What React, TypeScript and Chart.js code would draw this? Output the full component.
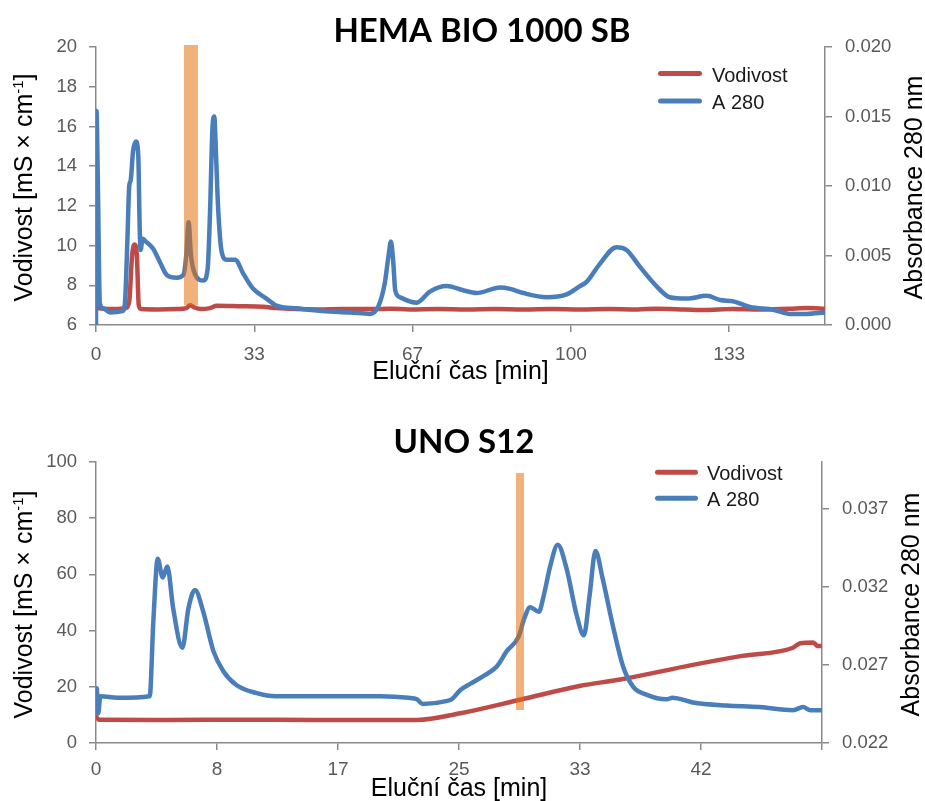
import React, { useEffect, useRef } from "react";
import { Chart, registerables } from "chart.js";

Chart.register(...registerables);

// ---------------- HEMA BIO 1000 SB ----------------
const hemaTitle = "HEMA BIO 1000 SB";
const hemaTicksX = [0, 33.333, 66.667, 100, 133.333];
const hemaTickLabelsX = ["0", "33", "67", "100", "133"];
const hemaTicksY = [6, 8, 10, 12, 14, 16, 18, 20];
const hemaTickLabelsY = ["6", "8", "10", "12", "14", "16", "18", "20"];
const hemaTicksA = [0, 0.005, 0.01, 0.015, 0.02];
const hemaTickLabelsA = ["0.000", "0.005", "0.010", "0.015", "0.020"];

const hemaA280Time = [
  0.0, 0.1, 0.4, 0.8, 1.5, 3.0, 5.6, 6.1, 6.6, 7.0, 7.3, 7.8, 8.4, 8.9, 9.2, 9.4, 9.8, 10.5,
  12.0, 13.5, 14.9, 17.0, 18.4, 19.0, 19.5, 20.0, 20.8, 22.6, 23.5, 24.0, 24.5, 24.9, 25.3,
  25.7, 26.5, 27.5, 29.3, 31.0, 33.1, 35.9, 38.0, 42.3, 47.8, 53.5, 57.7, 59.4, 60.8, 61.6,
  62.1, 62.6, 63.0, 64.0, 67.5, 70.3, 73.8, 77.3, 80.1, 85.1, 87.2, 90.0, 94.9, 99.1, 101.9,
  103.3, 106.1, 109.6, 111.7, 114.5, 118.0, 120.8, 124.4, 128.6, 131.4, 134.2, 137.7, 142.6,
  146.1, 149.6, 153.5,
];
const hemaA280 = [
  0.0, 0.0154, 0.01, 0.0016, 0.0012, 0.0009, 0.001, 0.0016, 0.006, 0.01, 0.0104, 0.0125,
  0.0132, 0.0122, 0.007, 0.0054, 0.0062, 0.006, 0.0055, 0.0045, 0.0036, 0.0034, 0.0036, 0.005,
  0.0074, 0.005, 0.0037, 0.0032, 0.004, 0.008, 0.014, 0.015, 0.012, 0.0085, 0.0052, 0.0047,
  0.0047, 0.0037, 0.0026, 0.0019, 0.0014, 0.0012, 0.001, 0.0009, 0.0008, 0.0013, 0.003, 0.005,
  0.006, 0.0045, 0.0025, 0.002, 0.0016, 0.0024, 0.0028, 0.0025, 0.0023, 0.0027, 0.0026, 0.0023,
  0.002, 0.0022, 0.0028, 0.0031, 0.0044, 0.0056, 0.0054, 0.0042, 0.0028, 0.002, 0.0019,
  0.0021, 0.0018, 0.0017, 0.0013, 0.0011, 0.0008, 0.0008, 0.0009,
];
const hemaCondTime = [
  0.3, 3.0, 6.3, 7.0, 7.6, 8.1, 8.6, 9.0, 9.5, 13, 17, 19.0, 19.8, 20.6, 22.0, 24.0, 25.4, 30,
  35.2, 38, 42, 47, 52, 58, 62, 66, 72, 78, 84, 90, 96, 102, 108, 114, 118, 124, 128, 134, 140,
  146, 150, 153.5,
];
const hemaCond = [
  6.85, 6.8, 6.85, 7.2, 9.5, 10.05, 9.5, 7.0, 6.8, 6.78, 6.8, 6.85, 7.0, 6.9, 6.8, 6.85, 6.97,
  6.95, 6.92, 6.85, 6.8, 6.78, 6.8, 6.8, 6.82, 6.78, 6.8, 6.78, 6.8, 6.78, 6.8, 6.78, 6.8, 6.78,
  6.82, 6.78, 6.75, 6.8, 6.78, 6.82, 6.85, 6.82,
];
const hemaMarkTime = 20.0;
const hemaMarkRange = [7.0, 20.1];

// ---------------- UNO S12 ----------------
const unoTitle = "UNO S12";
const unoTicksX = [0, 8.333, 16.667, 25, 33.333, 41.667, 50];
const unoTickLabelsX = ["0", "8", "17", "25", "33", "42", ""];
const unoTicksY = [0, 20, 40, 60, 80, 100];
const unoTickLabelsY = ["0", "20", "40", "60", "80", "100"];
const unoTicksA = [0.022, 0.027, 0.032, 0.037];
const unoTickLabelsA = ["0.022", "0.027", "0.032", "0.037"];

const unoA280Time = [
  0.0, 0.05, 0.15, 0.3, 1.5, 3.7, 3.95, 4.25, 4.59, 4.91, 5.32, 5.95, 6.36, 6.82, 7.39, 8.08,
  8.77, 9.69, 11.07, 12.4, 16.1, 19.6, 21.5, 22.1, 22.5, 24.2, 24.5, 25.1, 25.8, 26.7, 27.6,
  28.3, 29.1, 29.5, 29.9, 30.5, 30.8, 31.3, 31.8, 32.4, 33.1, 33.6, 34.0, 34.4, 34.9, 35.6,
  36.3, 37.0, 37.9, 39.3, 39.7, 41.1, 43.4, 45.7, 48.0, 48.7, 49.2, 50.0,
];
const unoA280 = [
  0.024, 0.0255, 0.0239, 0.025, 0.0249, 0.025, 0.0298, 0.0338, 0.0326, 0.0333, 0.0306, 0.0281,
  0.0306, 0.0318, 0.0304, 0.0279, 0.0266, 0.0257, 0.0252, 0.025, 0.025, 0.025, 0.0249, 0.0248,
  0.0245, 0.0247, 0.0248, 0.0254, 0.0258, 0.0263, 0.0269, 0.0279, 0.0288, 0.03, 0.0307, 0.0304,
  0.0313, 0.0334, 0.0347, 0.0332, 0.0302, 0.0289, 0.0315, 0.0343, 0.0325, 0.0295, 0.0269,
  0.0256, 0.0251, 0.0248, 0.0249, 0.0246, 0.0244, 0.0243, 0.0241, 0.0243, 0.0241, 0.0241,
];
const unoCondTime = [0, 0.2, 5, 10, 15, 20, 22.1, 25.1, 29.2, 33.3, 36.1, 41.1, 44.5, 48.0, 48.5, 49.4, 49.7, 50];
const unoCond = [9.4, 8.3, 8.2, 8.3, 8.2, 8.2, 8.2, 10.6, 15.4, 20.3, 22.6, 27.8, 31.0, 33.9, 35.5, 35.8, 34.5, 34.5];
const unoMarkTime = 29.2;
const unoMarkRange = [11.7, 96.1];

// ---------------- shared text ----------------
const condLabel = "Vodivost";
const a280Label = "A 280";
const yTitleMain = "Vodivost [mS × cm";
const yTitleSup = "-1";
const yTitleEnd = "]";
const y1Title = "Absorbance 280 nm";
const xTitle = "Eluční čas [min]";

const RED = "#BE4B48";
const BLUE = "#4A7EBB";
const ORANGE = "rgba(228,108,10,0.53)";
const AXIS = "#898989";
const TICK = "#595959";
const FONT = "'Liberation Sans', Arial, sans-serif";

Chart.defaults.font.family = FONT;

const pts = (xs: number[], ys: number[]) => xs.map((x, i) => ({ x, y: ys[i] }));

const decoPlugin = {
  id: "deco",
  afterDraw(chart: any, _args: any, o: any) {
    const ctx = chart.ctx as CanvasRenderingContext2D;
    const ca = chart.chartArea;
    ctx.save();
    ctx.fillStyle = "#000";
    ctx.textBaseline = "alphabetic";
    // chart title
    ctx.font = `bold ${o.titleSize}px Lato, sans-serif`;
    ctx.textAlign = "center";
    ctx.fillText(o.title, o.titleX, o.titleBaseline);

    const cy = (ca.top + ca.bottom) / 2 + o.yTitleShift;
    const drawRot = (bx: number, segs: { t: string; s: number; dy: number }[]) => {
      ctx.save();
      ctx.translate(bx, cy);
      ctx.rotate(-Math.PI / 2);
      ctx.textAlign = "left";
      let total = 0;
      for (const sg of segs) {
        ctx.font = `${sg.s}px ${FONT}`;
        total += ctx.measureText(sg.t).width;
      }
      let x = -total / 2;
      for (const sg of segs) {
        ctx.font = `${sg.s}px ${FONT}`;
        ctx.fillText(sg.t, x, sg.dy);
        x += ctx.measureText(sg.t).width;
      }
      ctx.restore();
    };
    drawRot(o.leftBaseline, [
      { t: yTitleMain, s: 25, dy: 0 },
      { t: yTitleSup, s: 15, dy: -9 },
      { t: yTitleEnd, s: 25, dy: 0 },
    ]);
    drawRot(o.rightBaseline, [{ t: y1Title, s: 25, dy: 0 }]);

    ctx.font = `25px ${FONT}`;
    ctx.textAlign = "center";
    ctx.fillText(xTitle, (ca.left + ca.right) / 2, o.xBaseline);

    // legend
    const entries = [
      { label: chart.data.datasets[2].label, color: RED, y: o.legendY[0] },
      { label: chart.data.datasets[1].label, color: BLUE, y: o.legendY[1] },
    ];
    ctx.font = `20px ${FONT}`;
    ctx.textAlign = "left";
    for (const e of entries) {
      ctx.strokeStyle = e.color;
      ctx.lineWidth = 5;
      ctx.lineCap = "round";
      ctx.beginPath();
      ctx.moveTo(o.legendX + 2.5, e.y);
      ctx.lineTo(o.legendX + o.legendLen - 2.5, e.y);
      ctx.stroke();
      ctx.fillStyle = "#1a1a1a";
      ctx.fillText(e.label, o.legendTextX, e.y + 8);
    }
    ctx.restore();
  },
};

const fixedTicks = (vals: number[]) => (scale: any) => {
  scale.ticks = vals.map((v) => ({ value: v }));
};

const axisCommon = (size: number, pad: number) => ({
  grid: { drawOnChartArea: false, drawTicks: true, tickLength: 7, color: AXIS, lineWidth: 1.5 },
  border: { display: true, color: AXIS, width: 1.5 },
  ticks: { font: { size, family: FONT }, color: TICK, padding: pad, autoSkip: false, maxRotation: 0, minRotation: 0 },
});

function makeConfig(p: any): any {
  const xc = axisCommon(19, p.xPad);
  const yc = axisCommon(18.5, 12);
  const y1c = axisCommon(18.5, 13);
  return {
    type: "line",
    data: {
      datasets: [
        {
          label: "mark",
          data: [
            { x: p.markTime, y: p.markRange[0] },
            { x: p.markTime, y: p.markRange[1] },
          ],
          yAxisID: "y",
          borderColor: ORANGE,
          borderWidth: p.markWidth,
          borderCapStyle: "butt",
          pointRadius: 0,
          tension: 0,
          clip: false,
        },
        {
          label: a280Label,
          data: pts(p.aTime, p.aVals),
          yAxisID: "y1",
          borderColor: BLUE,
          borderWidth: 4.5,
          borderJoinStyle: "round",
          borderCapStyle: "round",
          pointRadius: 0,
          cubicInterpolationMode: "monotone",
        },
        {
          label: condLabel,
          data: pts(p.cTime, p.cVals),
          yAxisID: "y",
          borderColor: RED,
          borderWidth: 4.5,
          borderJoinStyle: "round",
          borderCapStyle: "round",
          pointRadius: 0,
          cubicInterpolationMode: "monotone",
        },
      ],
    },
    options: {
      responsive: false,
      animation: false,
      devicePixelRatio: 1,
      layout: { padding: { top: p.padTop, left: 0, right: 0, bottom: 0 } },
      plugins: {
        legend: { display: false },
        tooltip: { enabled: false },
        title: { display: false },
        deco: p.deco,
      },
      scales: {
        x: {
          type: "linear",
          min: 0,
          max: p.xMax,
          ...xc,
          ticks: { ...xc.ticks, callback: (_v: any, i: number) => p.xLabels[i] ?? "" },
          afterBuildTicks: fixedTicks(p.xTicks),
          afterFit: (s: any) => {
            s.height = p.xHeight;
          },
        },
        y: {
          type: "linear",
          position: "left",
          min: p.yMin,
          max: p.yMax,
          ...yc,
          ticks: { ...yc.ticks, callback: (_v: any, i: number) => p.yLabels[i] ?? "" },
          afterBuildTicks: fixedTicks(p.yTicks),
          afterFit: (s: any) => {
            s.width = 96;
          },
        },
        y1: {
          type: "linear",
          position: "right",
          min: p.aMin,
          max: p.aMax,
          ...y1c,
          ticks: { ...y1c.ticks, callback: (_v: any, i: number) => p.aLabels[i] ?? "" },
          afterBuildTicks: fixedTicks(p.aTicks),
          afterFit: (s: any) => {
            s.width = p.rightWidth;
          },
        },
      },
    },
    plugins: [decoPlugin],
  };
}

const hemaConfig = () =>
  makeConfig({
    aTime: hemaA280Time,
    aVals: hemaA280,
    cTime: hemaCondTime,
    cVals: hemaCond,
    markTime: hemaMarkTime,
    markRange: hemaMarkRange,
    markWidth: 14,
    xMax: 153.5,
    xTicks: hemaTicksX,
    xLabels: hemaTickLabelsX,
    yMin: 6,
    yMax: 20,
    yTicks: hemaTicksY,
    yLabels: hemaTickLabelsY,
    aMin: 0,
    aMax: 0.02,
    aTicks: hemaTicksA,
    aLabels: hemaTickLabelsA,
    padTop: 47,
    xHeight: 75,
    xPad: 11.6,
    rightWidth: 100,
    deco: {
      title: hemaTitle,
      titleSize: 33,
      titleX: 482,
      titleBaseline: 42,
      yTitleShift: 1.5,
      leftBaseline: 31.5,
      rightBaseline: 922,
      xBaseline: 379,
      legendX: 658,
      legendLen: 44,
      legendTextX: 712,
      legendY: [73.5, 101],
    },
  });

const unoConfig = () =>
  makeConfig({
    aTime: unoA280Time,
    aVals: unoA280,
    cTime: unoCondTime,
    cVals: unoCond,
    markTime: unoMarkTime,
    markRange: unoMarkRange,
    markWidth: 8,
    xMax: 50,
    xTicks: unoTicksX,
    xLabels: unoTickLabelsX,
    yMin: 0,
    yMax: 100,
    yTicks: unoTicksY,
    yLabels: unoTickLabelsY,
    aMin: 0.022,
    aMax: 0.04,
    aTicks: unoTicksA,
    aLabels: unoTickLabelsA,
    padTop: 62,
    xHeight: 58,
    xPad: 8.6,
    rightWidth: 103,
    deco: {
      title: unoTitle,
      titleSize: 33,
      titleX: 464,
      titleBaseline: 52.7,
      yTitleShift: 2,
      leftBaseline: 31.5,
      rightBaseline: 919,
      xBaseline: 396,
      legendX: 655,
      legendLen: 43,
      legendTextX: 707,
      legendY: [72.3, 98.3],
    },
  });

function ChartCanvas({ make, width, height }: { make: () => any; width: number; height: number }) {
  const ref = useRef<HTMLCanvasElement | null>(null);
  useEffect(() => {
    if (!ref.current) return;
    const chart = new Chart(ref.current, make());
    return () => chart.destroy();
  }, [make]);
  return <canvas ref={ref} width={width} height={height} style={{ display: "block", width, height }} />;
}

export default function App() {
  return (
    <div style={{ position: "absolute", left: 0, top: 0, width: 925, height: 801, background: "#fff" }}>
      <ChartCanvas make={hemaConfig} width={925} height={400} />
      <ChartCanvas make={unoConfig} width={925} height={401} />
    </div>
  );
}
